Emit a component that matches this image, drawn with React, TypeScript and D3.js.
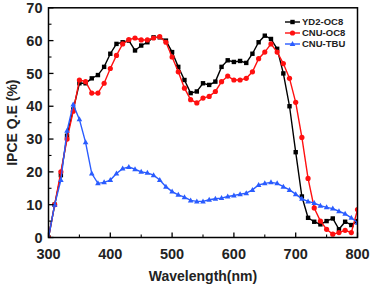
import { scaleLinear, line, range } from 'd3'

const wavelengths = range(300, 801, 10)

const yd2 = [0, 10, 19, 31, 39, 47, 47, 48.5, 49.5, 52, 56, 59, 59.5, 60, 57, 58.5, 59.5, 61, 61, 60,
  56.5, 52, 48, 44, 44.5, 47, 46.5, 47.5, 52, 54, 53.5, 53.8, 53.2, 56, 59.5, 61.5, 60.5, 57.5, 50, 40,
  26, 12.5, 6, 4.8, 4, 5, 5.8, 2.5, 4.8, 3.8, 5]
const cnuOc8 = [0, 10, 20, 30, 38.5, 48, 47.5, 44, 44, 47, 51.5, 55.5, 59, 60.3, 60.8, 60.2, 60.2, 60.8, 61.2, 59.5,
  55, 50.5, 45.5, 42, 41, 42.5, 43, 44.5, 47.5, 49.2, 48, 48, 48.5, 50.5, 54.5, 56.5, 59, 56.5, 53, 48.5,
  41.2, 30.5, 18, 9, 5, 2.5, 1, 1.5, 2.2, 1.5, 8.5]
const cnuTbu = [0, 10, 17.5, 32.5, 40.5, 36, 29, 19.5, 16.5, 16.8, 17.5, 19.5, 21, 21.5, 20.8, 20, 19.7, 19, 17.5, 15.5,
  14, 13, 12.3, 11.3, 11, 11, 11.5, 11.8, 12, 12.5, 12.8, 13.2, 13.5, 14.5, 16, 16.5, 16.8, 16.5, 15.5, 14.5,
  13.2, 11.8, 11, 10.5, 9.7, 9.2, 8.8, 8, 7.2, 6, 4.5]

const xTicks = [300, 400, 500, 600, 700, 800]
const xMinor = [350, 450, 550, 650, 750]
const yTicks = [0, 10, 20, 30, 40, 50, 60, 70]
const yMinor = [5, 15, 25, 35, 45, 55, 65]

const seriesNames = ['YD2-OC8', 'CNU-OC8', 'CNU-TBU']
const seriesColors = ['#000000', '#ff1010', '#2a5cff']
const seriesData = [yd2, cnuOc8, cnuTbu]

const font = '"Liberation Sans", Arial, sans-serif'

let Marker = ({ kind, x, y, color }: { kind: number, x: number, y: number, color: string }) => {
  if (kind === 0) return <rect x={x - 2.2} y={y - 2.2} width={4.4} height={4.4} fill={color} />
  if (kind === 1) return <circle cx={x} cy={y} r={2.6} fill={color} />
  return <path d={`M${x},${y - 3}L${x + 2.8},${y + 2}L${x - 2.8},${y + 2}Z`} fill={color} />
}

let App = () => {
  let width = 371
  let height = 288

  let xScale = scaleLinear().domain([300, 800]).range([48.5, 357.5])
  let yScale = scaleLinear().domain([0, 70]).range([237.5, 7.8])

  let path = line<number>()
    .x((d, i) => xScale(wavelengths[i]))
    .y(d => yScale(d))

  let [x0, x1] = xScale.range()
  let [y0, y1] = yScale.range()

  return (
    <svg width={width} height={height} style={{ position: 'absolute', left: 0, top: 0 }}>
      <rect width={width} height={height} fill="#fff" />
      <defs>
        <clipPath id="plot">
          <rect x={x0} y={y1} width={x1 - x0} height={y0 - y1} />
        </clipPath>
      </defs>

      {/* data */}
      <g clipPath="url(#plot)">
        {seriesData.map((s, k) => (
          <g key={k}>
            <path d={path(s) || ''} fill="none" stroke={seriesColors[k]} strokeWidth={1.4} />
            {s.map((v, i) => (
              <Marker key={i} kind={k} x={xScale(wavelengths[i])} y={yScale(v)} color={seriesColors[k]} />
            ))}
          </g>
        ))}
      </g>

      {/* frame */}
      <rect x={x0} y={y1} width={x1 - x0} height={y0 - y1} fill="none" stroke="#000" strokeWidth={1.5} />

      {/* ticks, inward */}
      {xTicks.map(t => (
        <line key={'xt' + t} x1={xScale(t)} x2={xScale(t)} y1={y0} y2={y0 - 5} stroke="#000" strokeWidth={1.3} />
      ))}
      {xMinor.map(t => (
        <line key={'xm' + t} x1={xScale(t)} x2={xScale(t)} y1={y0} y2={y0 - 3} stroke="#000" strokeWidth={1.1} />
      ))}
      {yTicks.map(t => (
        <line key={'yt' + t} x1={x0} x2={x0 + 5} y1={yScale(t)} y2={yScale(t)} stroke="#000" strokeWidth={1.3} />
      ))}
      {yMinor.map(t => (
        <line key={'ym' + t} x1={x0} x2={x0 + 3} y1={yScale(t)} y2={yScale(t)} stroke="#000" strokeWidth={1.1} />
      ))}

      {/* tick labels */}
      {xTicks.map(t => (
        <text key={'xl' + t} x={xScale(t)} y={y0 + 21} textAnchor="middle" fontFamily={font}
          fontWeight="bold" fontSize={14.5} fill="#222">{t}</text>
      ))}
      {yTicks.map(t => (
        <text key={'yl' + t} x={x0 - 6} y={yScale(t) + 5.2} textAnchor="end" fontFamily={font}
          fontWeight="bold" fontSize={14.5} fill="#222">{t}</text>
      ))}

      {/* axis titles */}
      <text x={(x0 + x1) / 2} y={281} textAnchor="middle" fontFamily={font} fontWeight="bold"
        fontSize={14} fill="#222">Wavelength(nm)</text>
      <text transform={`translate(17,${(y0 + y1) / 2}) rotate(-90)`} textAnchor="middle" fontFamily={font}
        fontWeight="bold" fontSize={14} fill="#222">IPCE Q.E (%)</text>

      {/* legend */}
      {seriesNames.map((n, k) => {
        let ly = 22 + k * 11
        return (
          <g key={n}>
            <line x1={285} x2={300} y1={ly} y2={ly} stroke={seriesColors[k]} strokeWidth={1.4} />
            <Marker kind={k} x={292.5} y={ly} color={seriesColors[k]} />
            <text x={302} y={ly + 3.3} fontFamily={font} fontWeight="bold" fontSize={9.5} fill="#222">{n}</text>
          </g>
        )
      })}
    </svg>
  )
}

export default App
